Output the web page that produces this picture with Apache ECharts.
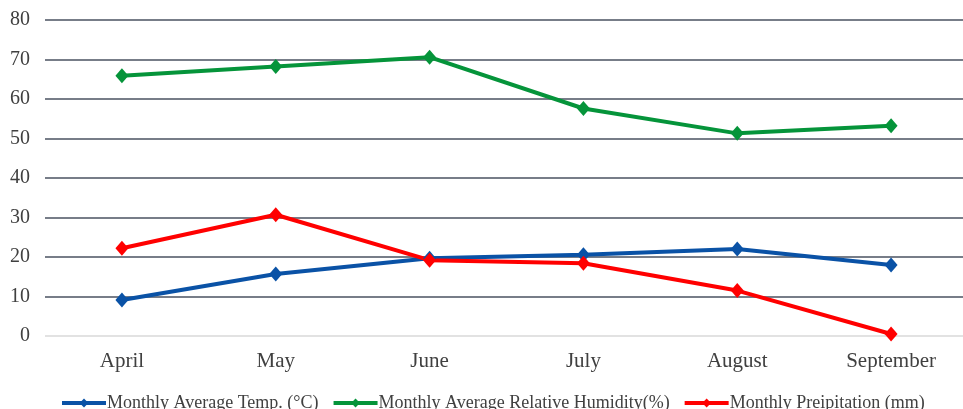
<!DOCTYPE html>
<html>
<head>
<meta charset="utf-8">
<script src="https://cdn.jsdelivr.net/npm/echarts@6/dist/echarts.min.js"></script>
<style>
html,body{margin:0;padding:0;background:#fff;overflow:hidden;}
#chart{width:970px;height:409px;}
</style>
</head>
<body>
<div id="chart"></div>
<script>
const months = ['April', 'May', 'June', 'July', 'August', 'September'];
const tempAvg = [9.1, 15.7, 19.7, 20.6, 22.0, 18.0];
const humidityAvg = [65.9, 68.2, 70.6, 57.6, 51.3, 53.2];
const precipitation = [22.2, 30.7, 19.2, 18.4, 11.5, 0.5];
const seriesNames = ['Monthly Average Temp. (°C)', 'Monthly Average Relative Humidity(%)', 'Monthly Preipitation (mm)'];

const font = '"Liberation Serif", "Times New Roman", serif';

function lineSeries(name, data, color) {
  return {
    name: name,
    type: 'line',
    data: data,
    symbol: 'diamond',
    symbolSize: [13, 15],
    itemStyle: { color: color },
    lineStyle: { color: color, width: 4 },
    emphasis: { disabled: true },
    animation: false
  };
}

const chart = echarts.init(document.getElementById('chart'));
chart.setOption({
  backgroundColor: '#fff',
  textStyle: { fontFamily: font },
  grid: { left: 45, right: 2, top: 20, height: 316, containLabel: false },
  xAxis: {
    type: 'category',
    data: months,
    axisLine: { show: false },
    axisTick: { show: false },
    axisLabel: { color: '#404040', fontSize: 21, fontFamily: font, margin: 15 }
  },
  yAxis: {
    type: 'value',
    min: 0,
    max: 80,
    interval: 10,
    axisLine: { show: false },
    axisTick: { show: false },
    axisLabel: { color: '#404040', fontSize: 20, fontFamily: font, margin: 15 },
    splitLine: {
      lineStyle: {
        width: 1.5,
        color: ['#d9d9d9', '#4a5260', '#4a5260', '#4a5260', '#4a5260', '#4a5260', '#4a5260', '#4a5260', '#4a5260']
      }
    }
  },
  legend: {
    bottom: -8,
    left: 55,
    itemWidth: 44,
    itemHeight: 11,
    itemGap: 13,
    textStyle: { color: '#404040', fontSize: 18, fontFamily: font, padding: [0, 0, 0, -4] },
    lineStyle: { width: 4 },
    data: seriesNames
  },
  series: [
    lineSeries(seriesNames[0], tempAvg, '#0a52a6'),
    lineSeries(seriesNames[1], humidityAvg, '#05943a'),
    lineSeries(seriesNames[2], precipitation, '#ff0000')
  ]
});
</script>
</body>
</html>
